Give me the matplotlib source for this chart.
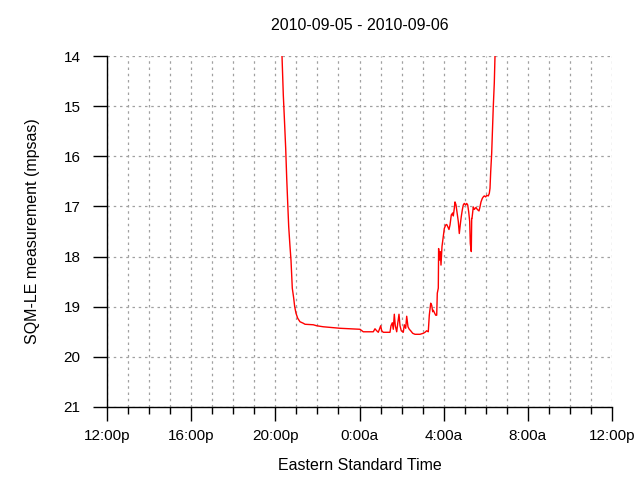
import matplotlib
matplotlib.use("Agg")
import matplotlib.pyplot as plt
from matplotlib.ticker import FixedLocator, MultipleLocator

TITLE = "2010-09-05 - 2010-09-06"
X_LABEL = "Eastern Standard Time"
Y_LABEL = "SQM-LE measurement (mpsas)"

# hours since 12:00p on 2010-09-05
HOURS = [
    8.317, 8.379, 8.426, 8.493, 8.540, 8.588, 8.635, 8.697, 8.744, 8.806,
    8.873, 8.920, 8.982, 9.063, 9.172, 9.329, 9.410, 9.804, 9.966, 10.280,
    11.073, 12.024, 12.180, 12.342, 12.656, 12.736, 12.817, 12.893, 13.007, 13.055,
    13.131, 13.449, 13.497, 13.559, 13.606, 13.654, 13.701, 13.768, 13.815, 13.877,
    13.925, 13.986, 14.081, 14.129, 14.195, 14.243, 14.305, 14.367, 14.433, 14.528,
    14.637, 14.875, 15.032, 15.113, 15.193, 15.269, 15.317, 15.384, 15.431, 15.479,
    15.507, 15.574, 15.621, 15.669, 15.697, 15.745, 15.760, 15.792, 15.840, 15.873,
    15.920, 15.982, 16.030, 16.096, 16.144, 16.191, 16.253, 16.301, 16.362, 16.429,
    16.458, 16.505, 16.538, 16.586, 16.619, 16.695, 16.743, 16.790, 16.838, 16.885,
    16.933, 16.980, 17.047, 17.095, 17.142, 17.190, 17.237, 17.266, 17.313, 17.332,
    17.346, 17.408, 17.456, 17.536, 17.598, 17.679, 17.726, 17.774, 17.836, 17.883,
    17.931, 17.997, 18.045, 18.121, 18.168, 18.202, 18.235, 18.282, 18.311, 18.358,
    18.406, 18.439,
]

MPSAS = [
    14.00, 14.78, 15.21, 15.85, 16.43, 16.93, 17.40, 17.80, 18.07, 18.63,
    18.83, 19.00, 19.13, 19.23, 19.30, 19.33, 19.35, 19.36, 19.38, 19.40,
    19.43, 19.45, 19.50, 19.50, 19.50, 19.44, 19.48, 19.51, 19.38, 19.48,
    19.51, 19.51, 19.38, 19.32, 19.45, 19.15, 19.38, 19.50, 19.34, 19.15,
    19.38, 19.48, 19.51, 19.36, 19.43, 19.19, 19.40, 19.45, 19.48, 19.53,
    19.55, 19.55, 19.53, 19.51, 19.48, 19.50, 19.17, 18.93, 18.97, 19.10,
    19.07, 19.13, 19.17, 19.17, 18.73, 18.63, 17.84, 18.07, 17.90, 18.17,
    17.80, 17.60, 17.44, 17.37, 17.36, 17.40, 17.46, 17.37, 17.17, 17.13,
    17.19, 17.04, 16.91, 16.97, 17.07, 17.30, 17.54, 17.36, 17.20, 17.07,
    16.97, 16.94, 16.97, 16.94, 16.97, 17.11, 17.30, 17.74, 17.90, 17.24,
    17.24, 17.01, 17.06, 17.02, 17.06, 17.09, 17.01, 16.91, 16.84, 16.81,
    16.79, 16.81, 16.78, 16.79, 16.74, 16.64, 16.31, 15.94, 15.58, 15.01,
    14.54, 14.01,
]

X_TICKS = [0, 4, 8, 12, 16, 20, 24]
X_TICK_LABELS = ["12:00p", "16:00p", "20:00p", "0:00a", "4:00a", "8:00a", "12:00p"]
Y_TICKS = [14, 15, 16, 17, 18, 19, 20, 21]

plt.rcParams["font.family"] = ["Liberation Sans", "DejaVu Sans"]

fig = plt.figure(figsize=(6.4, 4.8), dpi=100)
ax = fig.add_axes([107 / 640, 1 - 407 / 480, 505 / 640, 351 / 480])

ax.plot(HOURS, MPSAS, color="red", lw=1.0)

ax.set_xlim(X_TICKS[0], X_TICKS[-1])
ax.set_ylim(Y_TICKS[-1], Y_TICKS[0])

ax.xaxis.set_major_locator(FixedLocator(X_TICKS))
ax.set_xticklabels(X_TICK_LABELS)
ax.xaxis.set_minor_locator(MultipleLocator(1))
ax.yaxis.set_major_locator(FixedLocator(Y_TICKS))

grid_kw = dict(color="#a0a0a0", linestyle=(0, (2, 3)), linewidth=0.9)
ax.grid(True, which="minor", axis="x", **grid_kw)
ax.grid(True, which="major", axis="x", **grid_kw)
ax.grid(True, which="major", axis="y", **grid_kw)
ax.set_axisbelow(True)

for side in ("top", "right"):
    ax.spines[side].set_visible(False)
for side in ("left", "bottom"):
    ax.spines[side].set_linewidth(1.0)

ax.tick_params(axis="x", which="major", direction="out", length=10, width=1.0,
               labelsize=11, pad=6)
ax.tick_params(axis="x", which="minor", direction="out", length=5, width=1.0)
ax.tick_params(axis="y", which="major", direction="out", length=10, width=1.0,
               labelsize=11, pad=9)

fig.text(0.5 * (107 + 612) / 640, 1 - 25 / 480, TITLE, ha="center", va="center",
         fontsize=11.5)
fig.text(0.5 * (107 + 612) / 640, 1 - 465 / 480, X_LABEL, ha="center", va="center",
         fontsize=11.5)
fig.text(33 / 640, 1 - 231 / 480, Y_LABEL, ha="center", va="center",
         rotation=90, fontsize=11.5)

fig.savefig("out.png", dpi=100)
